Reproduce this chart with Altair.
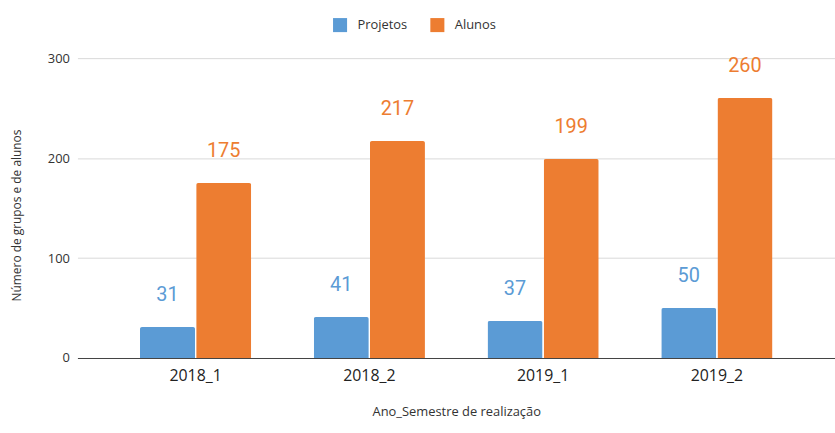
import altair as alt
import pandas as pd

periods = ["2018_1", "2018_2", "2019_1", "2019_2"]
series = ["Projetos", "Alunos"]
projetos = [31, 41, 37, 50]
alunos = [175, 217, 199, 260]
colors = ["#5b9bd5", "#ed7d31"]

rows = []
for p, a, b in zip(periods, projetos, alunos):
    rows.append({"periodo": p, "serie": "Projetos", "valor": a})
    rows.append({"periodo": p, "serie": "Alunos", "valor": b})
df = pd.DataFrame(rows)

axis_font = "Open Sans"

x = alt.X("periodo:N", sort=periods,
          scale=alt.Scale(paddingInner=0.36, paddingOuter=0.36),
          axis=alt.Axis(title="Ano_Semestre de realização", labelAngle=0,
                        labelFontSize=16, labelColor="#222222", labelFont=axis_font,
                        labelPadding=10, ticks=False, grid=False, domainColor="#444444",
                        domainWidth=1.2, titleFont=axis_font, titleFontSize=13,
                        titleFontWeight="normal", titleColor="#333333",
                        titlePadding=22))
xo = alt.XOffset("serie:N", sort=series, scale=alt.Scale(paddingInner=0.02))
y = alt.Y("valor:Q", scale=alt.Scale(domain=[0, 300], nice=False),
          axis=alt.Axis(title="Número de grupos e de alunos", values=[0, 100, 200, 300],
                        labelFontSize=13, labelColor="#333333", labelFont=axis_font,
                        ticks=False, labelPadding=8,
                        domain=False, gridColor="#d9d9d9",
                        titleFont=axis_font, titleFontSize=12, titleFontWeight="normal",
                        titleColor="#333333", titleX=-61, titleY=158,
                        titleAngle=-90, titleAlign="center", titleBaseline="middle"))
color = alt.Color("serie:N", sort=series,
                  scale=alt.Scale(domain=series, range=colors),
                  legend=alt.Legend(title=None, orient="none", direction="horizontal",
                                    legendX=257, legendY=-41,
                                    symbolType="square", symbolSize=200,
                                    symbolStrokeWidth=0, labelFont=axis_font,
                                    labelFontSize=13, labelColor="#333333",
                                    labelOffset=10, columnPadding=22))

base = alt.Chart(df)
bars = base.mark_bar(cornerRadiusTopLeft=2, cornerRadiusTopRight=2).encode(
    x=x, xOffset=xo, y=y, color=color)
labels = base.mark_text(font="Roboto", fontSize=20, baseline="alphabetic", dy=-26).encode(
    x=x, xOffset=xo, y=y, text="valor:Q",
    color=alt.Color("serie:N", sort=series, scale=alt.Scale(domain=series, range=colors),
                    legend=None))

chart = (bars + labels).properties(
    width=763, height=302,
    autosize=alt.AutoSizeParams(type="none"),
    padding={"left": 78, "top": 57, "right": 0, "bottom": 74},
    background="white",
).configure_view(stroke="transparent")

chart.save("out.html", embed_options={"renderer": "svg", "actions": False})
